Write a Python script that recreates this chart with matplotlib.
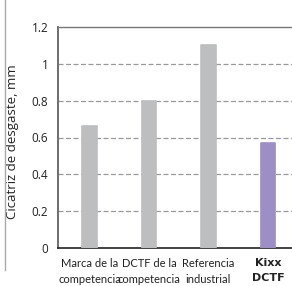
import matplotlib
matplotlib.use("Agg")
import matplotlib.pyplot as plt
from matplotlib.lines import Line2D

categories = ["Marca de la\ncompetencia", "DCTF de la\ncompetencia", "Referencia\nindustrial", "Kixx\nDCTF"]
values = [0.66, 0.80, 1.10, 0.57]
colors = ["#bdbebf", "#bdbebf", "#bdbebf", "#9d8fc5"]
yticks = [0, 0.2, 0.4, 0.6, 0.8, 1, 1.2]
ytick_labels = ["0", "0.2", "0.4", "0.6", "0.8", "1", "1.2"]
ylabel = "Cicatriz de desgaste, mm"

plt.rcParams['font.family'] = ['Open Sans', 'DejaVu Sans']

fig = plt.figure(figsize=(2.92, 2.86), dpi=100)
ax = fig.add_axes([58/292, 1-248/286, 1.05-58/292, (248-27)/286])

x = list(range(len(categories)))
ax.bar(x, values, width=0.24, color=colors, edgecolor=colors, linewidth=1.2,
       joinstyle='round', zorder=3)

ax.set_xlim(-0.53, 3.65)
ax.set_ylim(0, 1.2)
ax.set_yticks(yticks)
ax.set_yticklabels(ytick_labels, fontsize=8.5, color="#222222")
ax.set_xticks(x)
ax.set_xticklabels(categories, fontsize=8, color="#222222", linespacing=1.6)
for lbl in ax.get_xticklabels()[:3]:
    lbl.set_family(['Lato', 'DejaVu Sans'])
last = ax.get_xticklabels()[3]
last.set_family(['DejaVu Sans'])
last.set_fontweight('bold')
last.set_fontsize(8)
ax.tick_params(axis='both', length=0)
ax.tick_params(axis='y', pad=7)
ax.tick_params(axis='x', pad=7)

for v in yticks[1:-1]:
    ax.axhline(v, color="#999999", linestyle=(0, (4, 2)), linewidth=0.9, zorder=1)

ax.spines['right'].set_visible(False)
ax.spines['top'].set_color("#777777")
ax.spines['top'].set_linewidth(1.0)
ax.spines['left'].set_color("#555555")
ax.spines['left'].set_linewidth(1.2)
ax.spines['bottom'].set_color("#222222")
ax.spines['bottom'].set_linewidth(1.2)

ax.set_ylabel(ylabel, fontsize=9.5, color="#222222", labelpad=8)
ax.yaxis.set_label_coords(-0.155, 0.48)

fig.add_artist(Line2D([5/292, 5/292], [1-270/286, 1.0], transform=fig.transFigure,
                      color="#aaaaaa", linewidth=1))

fig.savefig("out.png", dpi=100)
